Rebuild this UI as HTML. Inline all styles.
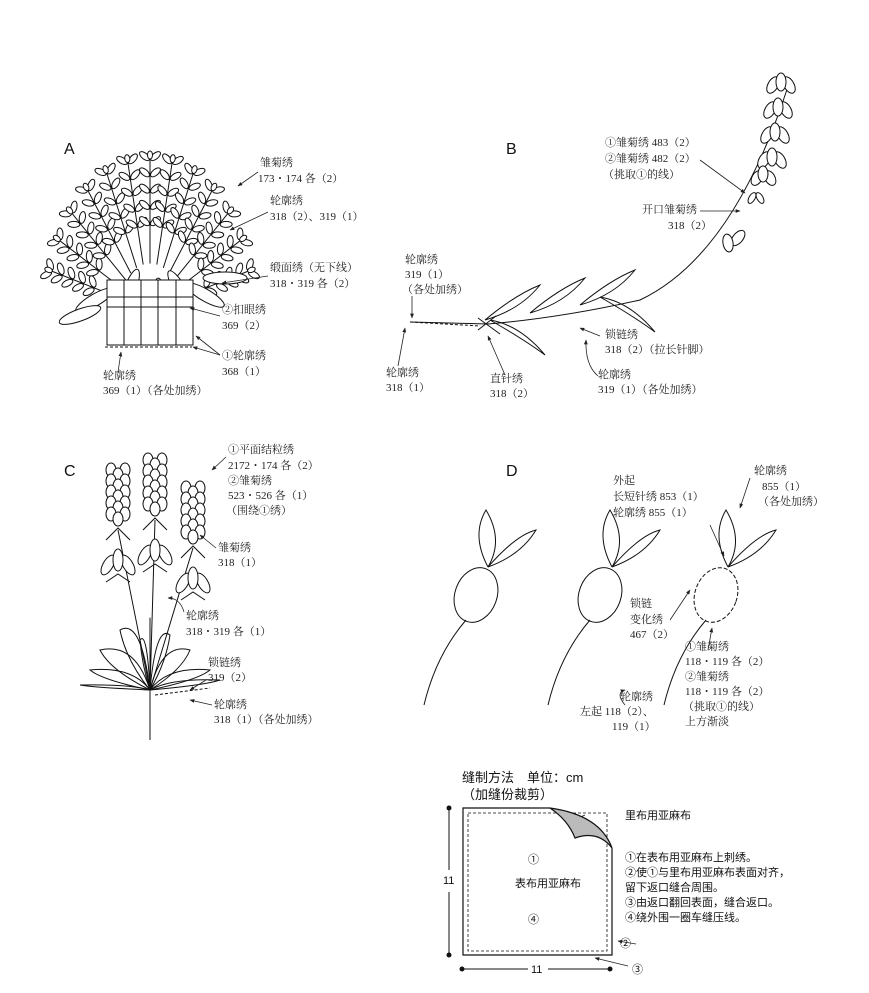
<!DOCTYPE html>
<html><head><meta charset="utf-8">
<style>
html,body{margin:0;padding:0;background:#fff;}
svg{display:block}
.s{font-family:"Liberation Serif","Noto Serif CJK SC",serif;font-size:11px;fill:#222}
.h{font-family:"Liberation Sans","Noto Sans CJK SC",sans-serif;font-size:16px;fill:#111}
.t{font-family:"Liberation Sans","Noto Sans CJK SC",sans-serif;font-size:11px;fill:#111}
.t2{font-family:"Liberation Sans","Noto Sans CJK SC",sans-serif;font-size:13px;fill:#111}
</style></head><body>
<svg id="c" width="869" height="993" viewBox="0 0 869 993" xmlns="http://www.w3.org/2000/svg">
<defs><marker id="ar" viewBox="0 0 10 10" refX="9" refY="5" markerWidth="6" markerHeight="6" orient="auto"><path d="M0,1 L10,5 L0,9 z" fill="#222"/></marker></defs>
<g id="draw" fill="none" stroke="#111" stroke-width="1"></g>
<g stroke="#222" stroke-width="0.8" fill="none" marker-end="url(#ar)">
<path d="M258,172 L238,186"/><path d="M268,212 L230,230"/><path d="M268,276 L222,283"/><path d="M220,316 L190,308"/><path d="M220,355 L196,336"/><path d="M220,355 L193,347"/><path d="M118,372 L121,352"/>
<path d="M700,160 L745,193"/><path d="M700,211 L740,211"/><path d="M412,296 L412,318"/><path d="M398,366 L405,328"/><path d="M505,375 L488,336"/><path d="M600,336 L580,328"/><path d="M598,376 Q585,365 586,340"/>
<path d="M226,457 L212,470"/><path d="M216,548 L200,535"/><path d="M184,612 Q180,598 168,598"/><path d="M206,680 L190,690"/><path d="M212,705 L190,700"/>
<path d="M710,525 L724,556"/><path d="M750,478 L740,508"/><path d="M670,620 L690,590"/><path d="M708,650 L712,628"/><path d="M625,705 Q615,693 625,690"/>
<path d="M585,815 L560,826"/><path d="M636,944 L618,941"/><path d="M628,966 L595,958"/><path d="M537,928 L537,952"/>
</g>
<g stroke="#111" stroke-width="1.2" fill="none">
<path d="M550,808 H463 V955 H612 V848" fill="#fff"/>
<rect x="468" y="813" width="139" height="138" stroke-dasharray="3,2" stroke-width="0.8"/>
<path d="M550,808 Q600,815 612,848 Q598,830 575,838 Q568,820 550,808 z" fill="#bbb"/>
<path d="M449,808 L449,870 M449,892 L449,955 M462,969 L528,969 M548,969 L610,969" stroke-width="1"/>
</g>
<g fill="#111"><circle cx="449" cy="808" r="2.5"/><circle cx="449" cy="955" r="2.5"/><circle cx="462" cy="969" r="2.5"/><circle cx="610" cy="969" r="2.5"/></g>
<text class="h" x="64" y="154">A</text><text class="h" x="506" y="154">B</text><text class="h" x="64" y="476">C</text><text class="h" x="506" y="476">D</text>
<g class="s">
<text x="260" y="166">雏菊绣</text><text x="258" y="182">173・174 各（2）</text>
<text x="270" y="204">轮廓绣</text><text x="270" y="220">318（2）、319（1）</text>
<text x="270" y="271">缎面绣（无下线）</text><text x="270" y="287">318・319 各（2）</text>
<text x="222" y="313">②扣眼绣</text><text x="222" y="329">369（2）</text>
<text x="222" y="359">①轮廓绣</text><text x="222" y="375">368（1）</text>
<text x="103" y="379">轮廓绣</text><text x="103" y="394">369（1）（各处加绣）</text>
<text x="605" y="146">①雏菊绣 483（2）</text><text x="605" y="162">②雏菊绣 482（2）</text><text x="603" y="178">（挑取①的线）</text>
<text x="642" y="213">开口雏菊绣</text><text x="668" y="229">318（2）</text>
<text x="405" y="263">轮廓绣</text><text x="405" y="278">319（1）</text><text x="402" y="293">（各处加绣）</text>
<text x="386" y="376">轮廓绣</text><text x="386" y="391">318（1）</text>
<text x="490" y="382">直针绣</text><text x="490" y="397">318（2）</text>
<text x="605" y="338">锁链绣</text><text x="605" y="353">318（2）（拉长针脚）</text>
<text x="598" y="378">轮廓绣</text><text x="598" y="393">319（1）（各处加绣）</text>
<text x="228" y="453">①平面结粒绣</text><text x="228" y="469">2172・174 各（2）</text><text x="228" y="484">②雏菊绣</text><text x="228" y="499">523・526 各（1）</text><text x="226" y="514">（围绕①绣）</text>
<text x="218" y="551">雏菊绣</text><text x="218" y="566">318（1）</text>
<text x="186" y="619">轮廓绣</text><text x="186" y="635">318・319 各（1）</text>
<text x="208" y="666">锁链绣</text><text x="208" y="681">319（2）</text>
<text x="214" y="708">轮廓绣</text><text x="214" y="723">318（1）（各处加绣）</text>
<text x="613" y="484">外起</text><text x="613" y="500">长短针绣 853（1）</text><text x="613" y="516">轮廓绣 855（1）</text>
<text x="754" y="474">轮廓绣</text><text x="762" y="490">855（1）</text><text x="758" y="505">（各处加绣）</text>
<text x="630" y="607">锁链</text><text x="630" y="623">变化绣</text><text x="630" y="638">467（2）</text>
<text x="685" y="650">①雏菊绣</text><text x="685" y="665">118・119 各（2）</text><text x="685" y="680">②雏菊绣</text><text x="685" y="695">118・119 各（2）</text><text x="683" y="710">（挑取①的线）</text><text x="685" y="725">上方渐淡</text>
<text x="620" y="700">轮廓绣</text><text x="580" y="715">左起 118（2）、</text><text x="612" y="730">119（1）</text>
</g>
<text class="t2" x="462" y="782">缝制方法　单位：cm</text>
<text class="t2" x="462" y="799">（加缝份裁剪）</text>
<text class="t" x="625" y="819">里布用亚麻布</text>
<text class="t" x="528" y="863">①</text><text class="t" x="515" y="887">表布用亚麻布</text><text class="t" x="528" y="923">④</text>
<text class="t" x="443" y="884">11</text><text class="t" x="531" y="973">11</text>
<text class="t" x="620" y="947">②</text><text class="t" x="632" y="973">③</text>
<text class="t" x="625" y="861">①在表布用亚麻布上刺绣。</text>
<text class="t" x="625" y="876">②使①与里布用亚麻布表面对齐，</text>
<text class="t" x="625" y="891">留下返口缝合周围。</text>
<text class="t" x="625" y="906">③由返口翻回表面，缝合返口。</text>
<text class="t" x="625" y="921">④绕外围一圈车缝压线。</text>
</svg>
<script>
var g=document.getElementById('draw'),P=[];
function add(s){P.push(s);}
function leaf(x,y,a,l,w){add('<ellipse cx="'+x+'" cy="'+y+'" rx="'+l+'" ry="'+w+'" transform="rotate('+a+' '+x+' '+y+')" fill="#fff"/>');}
// A sprigs
var cx=150,cy=310;
for(var i=0;i<13;i++){var ang=(165-i*12.5)*Math.PI/180;var tx=cx+105*Math.cos(ang),ty=cy-155*Math.sin(ang);
 var bx=cx+(tx-cx)*0.3,by=cy+(ty-cy)*0.3;add('<path d="M'+bx+','+by+' L'+tx+','+ty+'"/>');
 var d=Math.atan2(ty-by,tx-bx),deg=d*180/Math.PI;
 for(var k=0;k<5;k++){var f=0.35+k*0.15;var px=bx+(tx-bx)*f,py=by+(ty-by)*f;
  leaf(px+7*Math.cos(d-0.9),py+7*Math.sin(d-0.9),deg-50,6,3);leaf(px+7*Math.cos(d+0.9),py+7*Math.sin(d+0.9),deg+50,6,3);}
 leaf(tx,ty,deg,4,2.5);}
[[120,320,-60],[175,320,-110],[140,305,-80],[160,300,-95],[95,300,-30],[205,295,-150],[130,290,-70],[180,290,-120],[225,278,0],[80,315,-20]].forEach(function(v){leaf(v[0],v[1],v[2],22,6);});
add('<rect x="107" y="280" width="86" height="65" fill="#fff"/>');
add('<path d="M107,297 H193 M107,307 H193 M124,280 V345 M141,280 V345 M158,280 V345 M176,280 V345"/>');
add('<path d="M105,347 H192" stroke-dasharray="3,2"/>');
// B
add('<path d="M410,322 L488,324 Q560,318 640,300 Q735,255 790,80"/>');
add('<path d="M410,322 L480,326" stroke-dasharray="3,2"/>');
add('<path d="M478,318 L500,334 M478,330 L496,316"/>');
[[515,305,-45],[520,335,30],[560,298,-40],[610,290,-40],[630,312,20]].forEach(function(v){add('<path d="M'+(v[0]-30)+','+(v[1]+15*(v[2]<0?1:-1))+' Q'+v[0]+','+(v[1]-10)+' '+(v[0]+25)+','+(v[1]-20*(v[2]<0?1:-1))+' Q'+(v[0]+5)+','+(v[1]+5)+' '+(v[0]-30)+','+(v[1]+15*(v[2]<0?1:-1))+'"/>');});
for(var j=0;j<4;j++){var y=85+j*25,x=781-j*3;leaf(x-8,y,-60,9,5);leaf(x+8,y,60,9,5);leaf(x,y-3,90,9,5);}
leaf(757,178,-60,8,5);leaf(770,178,60,8,5);leaf(763,174,90,8,5);
leaf(738,238,-50,9,5);leaf(728,243,-100,9,5);leaf(752,198,-60,6,3);leaf(760,198,60,6,3);
// C
[[118,470],[155,460],[193,488]].forEach(function(v,n){var x=v[0],y=v[1];add('<path d="M'+x+','+(y+60)+' L150,690"/>');
 for(var r=0;r<5;r++){leaf(x-7,y+r*11,90,7,5);leaf(x+7,y+r*11,90,7,5);leaf(x,y+r*11+5,90,7,5);}
 add('<path d="M'+(x-12)+','+(y+70)+' L'+x+','+(y+58)+' L'+(x+12)+','+(y+70)+'"/>');
 leaf(x-10,y+95,-60,11,5);leaf(x+10,y+95,60,11,5);leaf(x,y+90,90,11,5);
 add('<path d="M'+(x-12)+','+(y+112)+' L'+x+','+(y+104)+' L'+(x+12)+','+(y+112)+'"/>');});
add('<path d="M150,690 L150,740"/>');
[[-60,20],[-50,40],[-30,60],[-10,50],[20,55],[40,40],[60,20],[-70,5],[70,10],[0,70]].forEach(function(v){var x=150+v[0],y=690-v[1];add('<path d="M150,690 Q'+(150+v[0]*0.3)+','+(690-v[1]*1.2)+' '+x+','+y+' Q'+(150+v[0]*0.8)+','+(690-v[1]*0.5)+' 150,690"/>');});
add('<path d="M155,695 L210,688" stroke-dasharray="3,2"/>');
// D
[[476,595],[600,595],[716,595]].forEach(function(v,n){var x=v[0],y=v[1];
 add('<ellipse cx="'+x+'" cy="'+y+'" rx="21" ry="28" transform="rotate(20 '+x+' '+y+')"'+(n==2?' stroke-dasharray="4,2"':'')+'/>');
 add('<path d="M'+(x-10)+','+(y+25)+' Q'+(x-40)+','+(y+60)+' '+(x-52)+','+(y+110)+'"/>');
 add('<path d="M'+(x+12)+','+(y-28)+' Q'+(x-5)+','+(y-60)+' '+(x+10)+','+(y-85)+' Q'+(x+28)+','+(y-55)+' '+(x+12)+','+(y-28)+'"/>');
 add('<path d="M'+(x+12)+','+(y-28)+' Q'+(x+40)+','+(y-60)+' '+(x+60)+','+(y-65)+' Q'+(x+45)+','+(y-40)+' '+(x+12)+','+(y-28)+'"/>');});
g.innerHTML=P.join('');
</script>
</body></html>
